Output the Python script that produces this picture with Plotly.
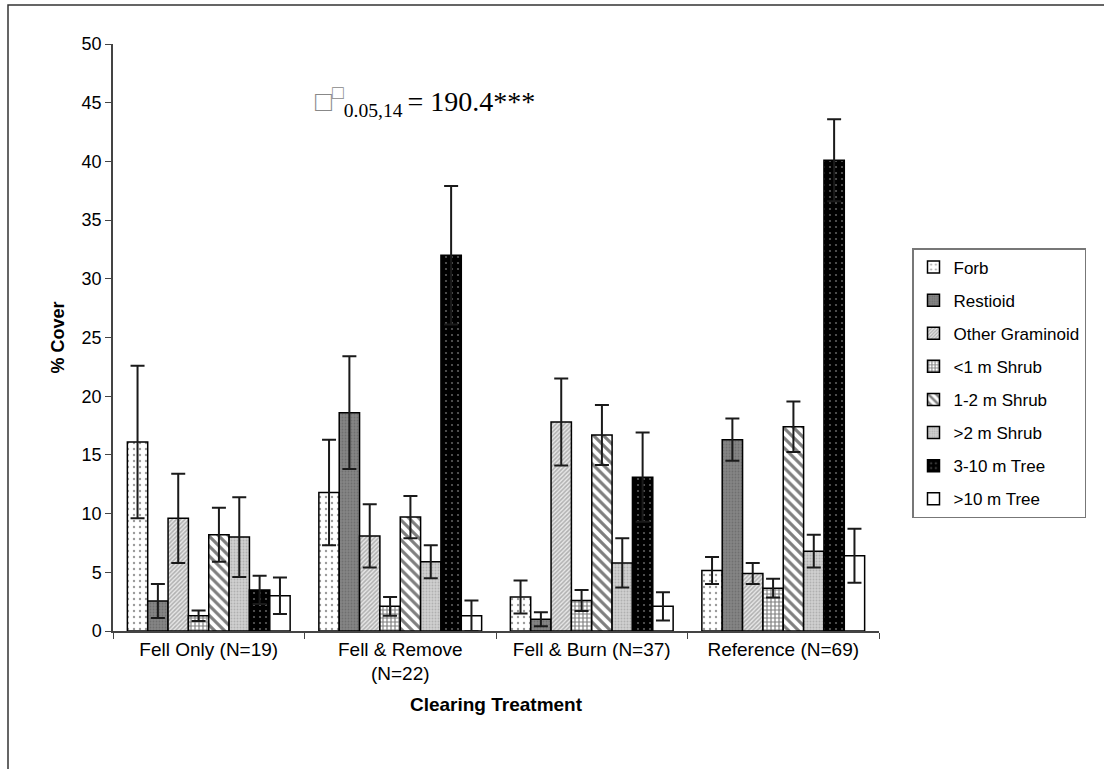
import plotly.graph_objects as go

categories = ["Fell Only (N=19)", "Fell & Remove<br>(N=22)", "Fell & Burn (N=37)", "Reference (N=69)"]
series_names = ["Forb", "Restioid", "Other Graminoid", "<1 m Shrub", "1-2 m Shrub", ">2 m Shrub", "3-10 m Tree", ">10 m Tree"]

forb = [16.1, 11.8, 2.9, 5.15]
restioid = [2.55, 18.6, 1.0, 16.3]
other_graminoid = [9.6, 8.1, 17.8, 4.9]
shrub_lt1 = [1.3, 2.1, 2.6, 3.65]
shrub_1_2 = [8.2, 9.7, 16.7, 17.4]
shrub_gt2 = [8.0, 5.9, 5.8, 6.8]
tree_3_10 = [3.5, 32.0, 13.1, 40.1]
tree_gt10 = [3.0, 1.3, 2.1, 6.4]

forb_err = [6.5, 4.5, 1.4, 1.15]
restioid_err = [1.45, 4.8, 0.6, 1.8]
other_graminoid_err = [3.8, 2.7, 3.7, 0.9]
shrub_lt1_err = [0.45, 0.8, 0.9, 0.8]
shrub_1_2_err = [2.3, 1.8, 2.55, 2.15]
shrub_gt2_err = [3.4, 1.4, 2.1, 1.4]
tree_3_10_err = [1.2, 5.9, 3.8, 3.5]
tree_gt10_err = [1.55, 1.3, 1.2, 2.3]

values = [forb, restioid, other_graminoid, shrub_lt1, shrub_1_2, shrub_gt2, tree_3_10, tree_gt10]
errors = [forb_err, restioid_err, other_graminoid_err, shrub_lt1_err, shrub_1_2_err, shrub_gt2_err, tree_3_10_err, tree_gt10_err]

styles = [
    dict(color="white", pattern=dict(shape=".", fgcolor="#333333", size=6, solidity=0.12, fillmode="overlay")),
    dict(color="#858585", pattern=dict(shape=".", fgcolor="#5a5a5a", size=3, solidity=0.3, fillmode="overlay")),
    dict(color="#e8e8e8", pattern=dict(shape="/", fgcolor="#777777", size=3, solidity=0.5, fillmode="overlay")),
    dict(color="white", pattern=dict(shape="+", fgcolor="#000000", size=4, solidity=0.5, fillmode="overlay")),
    dict(color="white", pattern=dict(shape="\\", fgcolor="#000000", size=7, solidity=0.45, fillmode="overlay")),
    dict(color="#d0d0d0", pattern=dict(shape=".", fgcolor="#909090", size=3, solidity=0.3, fillmode="overlay")),
    dict(color="#000000", pattern=dict(shape=".", fgcolor="#bbbbbb", size=6, solidity=0.1, fillmode="overlay")),
    dict(color="white"),
]

fig = go.Figure()
for i, (name, v, e, st) in enumerate(zip(series_names, values, errors, styles)):
    marker = dict(st)
    marker["line"] = dict(color="black", width=1.5)
    fig.add_trace(go.Bar(
        x=categories, y=v, name=name, marker=marker, legendgroup=f"g{i}",
        error_y=dict(type="data", array=e, visible=True, color="#1a1a1a", thickness=2, width=7),
    ))

fig.update_layout(
    width=1104, height=769,
    margin=dict(l=113, r=225, t=44, b=138, autoexpand=False),
    paper_bgcolor="white", plot_bgcolor="white",
    barmode="group", bargap=0.15, bargroupgap=0,
    font=dict(family="Arial, Liberation Sans, sans-serif", size=18, color="black"),
    showlegend=True,
    legend=dict(
        x=(912 - 113) / 766, y=(631 - 248) / 587, xanchor="left", yanchor="top",
        bordercolor="#777777", borderwidth=1.5, bgcolor="white",
        font=dict(size=17, family="Arial, Liberation Sans, sans-serif"),
        tracegroupgap=8, itemwidth=30,
    ),
    xaxis=dict(
        showline=True, linecolor="#444444", linewidth=1.5,
        ticks="outside", tickson="boundaries", ticklen=6, tickcolor="#444444",
        tickfont=dict(size=19),
        title=dict(text="<b>Clearing Treatment</b>", font=dict(size=19), standoff=14),
    ),
    yaxis=dict(
        range=[0, 50], dtick=5, showline=True, linecolor="#444444", linewidth=1.5,
        ticks="outside", ticklen=6, tickcolor="#444444", showgrid=False, zeroline=False,
        tickfont=dict(size=18),
        title=dict(text="<b>% Cover</b>", font=dict(size=18), standoff=12),
    ),
    annotations=[dict(
        xref="paper", yref="paper", x=(313 - 113) / 766, y=(631 - 102) / 587,
        xanchor="left", yanchor="middle", showarrow=False,
        text="<span style='color:#888888'>□<sup>□</sup></span><sub>0.05,14 </sub>= 190.4***",
        font=dict(family="Times New Roman, Liberation Serif, serif", size=28, color="black"),
    )],
    shapes=[dict(
        type="rect", xref="paper", yref="paper",
        x0=(8 - 113) / 766, x1=(1130 - 113) / 766,
        y0=(631 - 790) / 587, y1=(631 - 5) / 587,
        line=dict(color="#333333", width=1.5), fillcolor="rgba(0,0,0,0)", layer="below",
    )],
)

fig.write_html("out.html")
